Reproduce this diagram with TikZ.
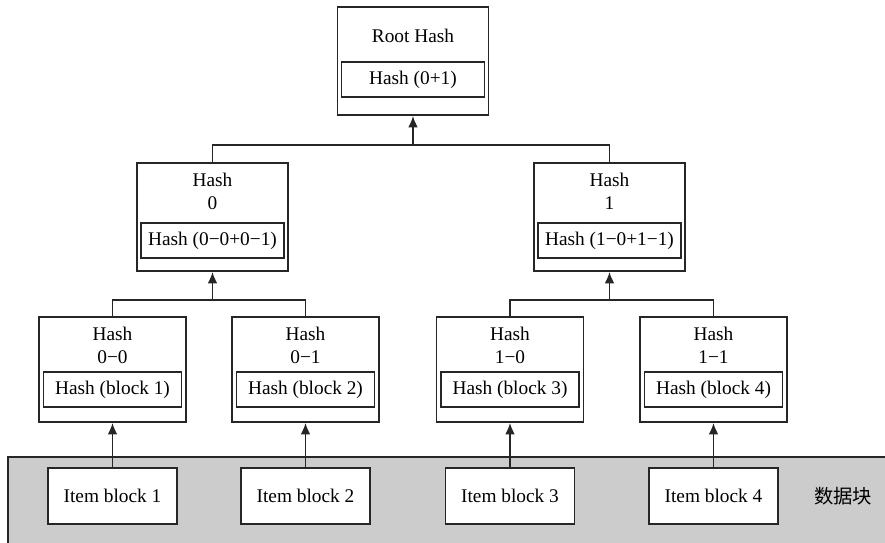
\documentclass[tikz,border=0pt]{standalone}
\usepackage{fontspec}
\setmainfont{Liberation Serif}
\newfontfamily\cjk{Noto Sans CJK SC}
\usetikzlibrary{arrows.meta}

\tikzset{
  every node/.style={font=\fontsize{11}{13}\selectfont, align=center, inner sep=0pt},
  line/.style={draw=black!85, line width=1pt},
  hashbox/.style={line, fill=white, minimum width=3.02cm, minimum height=2.16cm},
  leafbox/.style={line, fill=white, minimum width=2.94cm, minimum height=2.1cm},
  innerbox/.style={line, minimum width=2.86cm, minimum height=0.7cm},
  leafinner/.style={line, minimum width=2.76cm, minimum height=0.7cm},
  itembox/.style={line, fill=white, minimum width=2.58cm, minimum height=1.12cm},
}

\begin{document}
\begin{tikzpicture}[x=0.02cm, y=-0.02cm, >={Latex[length=6.5pt,width=5.5pt]}]
  \useasboundingbox (0,0) rectangle (885,543);

  % data block band
  \fill[gray!40] (8,457) rectangle (885,543);
  \draw[line] (8,543) -- (8,457) -- (885,457);
  \node (band) at (843,496) {\cjk 数据块};

  % root
  \node[hashbox] (root) at (413,61) {};
  \node (roott) at (413,36) {Root Hash};
  \node[innerbox] (rootin) at (413,79.5) {Hash (0+1)};

  % level 1
  \node[hashbox] (h0) at (212.5,217) {};
  \node (h0t) at (212.5,191) {Hash\\0};
  \node[innerbox] (h0in) at (212.5,240.5) {Hash (0−0+0−1)};

  \node[hashbox] (h1) at (609.5,217) {};
  \node (h1t) at (609.5,191) {Hash\\1};
  \node[innerbox] (h1in) at (609.5,240.5) {Hash (1−0+1−1)};

  % level 2
  \node[leafbox] (h00) at (112.5,369.5) {};
  \node (h00t) at (112.5,345.5) {Hash\\0−0};
  \node[leafinner] (h00in) at (112.5,389.5) {Hash (block 1)};

  \node[leafbox] (h01) at (305.5,369.5) {};
  \node (h01t) at (305.5,345.5) {Hash\\0−1};
  \node[leafinner] (h01in) at (305.5,389.5) {Hash (block 2)};

  \node[leafbox] (h10) at (510,369.5) {};
  \node (h10t) at (510,345.5) {Hash\\1−0};
  \node[leafinner] (h10in) at (510,389.5) {Hash (block 3)};

  \node[leafbox] (h11) at (713.5,369.5) {};
  \node (h11t) at (713.5,345.5) {Hash\\1−1};
  \node[leafinner] (h11in) at (713.5,389.5) {Hash (block 4)};

  % items
  \node[itembox] (i1) at (112.5,496) {Item block 1};
  \node[itembox] (i2) at (305.5,496) {Item block 2};
  \node[itembox] (i3) at (510,496) {Item block 3};
  \node[itembox] (i4) at (713.5,496) {Item block 4};

  % joins
  \coordinate (j) at (413,145);
  \coordinate (j0) at (212.5,300);
  \coordinate (j1) at (609.5,300);

  \draw[line] (h0.north) |- (j) -| (h1.north);
  \draw[line,->] (j) -- (root.south);
  \draw[line] (h00.north) |- (j0) -| (h01.north);
  \draw[line,->] (j0) -- (h0.south);
  \draw[line] (h10.north) |- (j1) -| (h11.north);
  \draw[line,->] (j1) -- (h1.south);

  \draw[line,->] (i1.north) -- (h00.south);
  \draw[line,->] (i2.north) -- (h01.south);
  \draw[line,->] (i3.north) -- (h10.south);
  \draw[line,->] (i4.north) -- (h11.south);
\end{tikzpicture}
\end{document}
